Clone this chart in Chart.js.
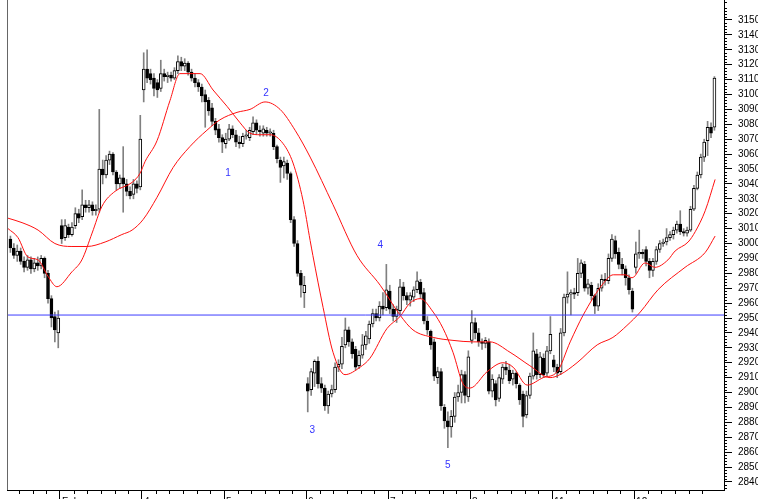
<!DOCTYPE html>
<html lang="en">
<head>
  <meta charset="UTF-8" />
  <title>Intraday candles | Feb</title>
  <style>
    html, body {
      margin: 0;
      padding: 0;
      background: #ffffff;
      width: 758px;
      height: 499px;
      overflow: hidden;
    }
    #wrap {
      position: absolute;
      left: 0;
      top: 0;
      width: 780px;
      height: 520px;
    }
  </style>
</head>
<body>
  <div id="wrap"><canvas id="chart" width="780" height="520"></canvas></div>

  <script src="https://cdn.jsdelivr.net/npm/chart.js"></script>
  <script>
    // x axis is in candle slots, Feb 1 opens at slot 0, one session = 24 slots
    const firstSlot = -15;
    const dayStarts = [0, 24, 48, 72, 96, 120, 144, 168];
    const dayLabels = ["February", "4", "5", "6", "7", "8", "11", "12"];
    const yTicks = [2840, 2850, 2860, 2870, 2880, 2890, 2900, 2910, 2920, 2930, 2940, 2950,
      2960, 2970, 2980, 2990, 3000, 3010, 3020, 3030, 3040, 3050, 3060, 3070, 3080, 3090,
      3100, 3110, 3120, 3130, 3140, 3150];

    // one line per session: Jan 31 (part), Feb 1, 4, 5, 6, 7, 8, 11, 12
    const opens = [
      3003, 2997, 2992, 2995, 2988, 2984, 2989, 2983, 2987, 2985, 2990, 2980, 2963, 2951, 2940,
      3012, 3004, 3011, 3006, 3012, 3020, 3018, 3026, 3024, 3026, 3022, 3023, 3050, 3046, 3056, 3060, 3048, 3040, 3044, 3040, 3035, 3033, 3040, 3038,
      3103, 3117, 3114, 3111, 3108, 3104, 3114, 3112, 3113, 3111, 3116, 3122, 3119, 3121, 3115, 3111, 3108, 3105, 3100, 3096, 3091, 3082, 3077, 3071,
      3067, 3070, 3077, 3073, 3068, 3067, 3072, 3071, 3075, 3081, 3076, 3074, 3076, 3074, 3074, 3065, 3056, 3052, 3054, 3047, 3016, 3000, 2980, 2967,
      2906, 2902, 2913, 2921, 2906, 2903, 2891, 2899, 2902, 2917, 2919, 2932, 2942, 2934, 2929, 2918, 2925, 2932, 2936, 2946, 2953, 2950, 2958, 2957,
      2968, 2956, 2951, 2955, 2971, 2965, 2962, 2964, 2969, 2974, 2967, 2948, 2941, 2934, 2910, 2914, 2890, 2881, 2877, 2884, 2897, 2900, 2912, 2897,
      2935, 2947, 2940, 2934, 2933, 2934, 2901, 2906, 2896, 2909, 2917, 2915, 2909, 2913, 2905, 2899, 2885, 2898, 2911, 2926, 2912, 2923, 2913, 2928,
      2922, 2917, 2914, 2940, 2964, 2966, 2967, 2967, 2980, 2986, 2970, 2972, 2965, 2958, 2970, 2976, 2975, 2990, 3002, 2994, 2986, 2983, 2977, 2968,
      2984, 2993, 2994, 2996, 2988, 2982, 2988, 2996, 3000, 3001, 3004, 3006, 3009, 3013, 3008, 3007, 3009, 3023, 3037, 3046, 3058, 3069, 3078, 3078
    ];
    const highs = [
      3005, 3000, 2999, 2997, 2991, 2992, 2991, 2990, 2991, 2992, 2991, 2982, 2965, 2954, 2955,
      3016, 3016, 3013, 3014, 3024, 3023, 3036, 3029, 3029, 3028, 3026, 3090, 3056, 3059, 3062, 3061, 3049, 3046, 3065, 3043, 3038, 3043, 3042, 3086,
      3128, 3130, 3117, 3114, 3110, 3123, 3117, 3115, 3115, 3118, 3126, 3125, 3124, 3122, 3117, 3114, 3110, 3107, 3103, 3098, 3094, 3084, 3080, 3073,
      3074, 3080, 3079, 3076, 3072, 3074, 3076, 3078, 3085, 3083, 3079, 3079, 3078, 3077, 3076, 3066, 3058, 3058, 3056, 3048, 3018, 3002, 2982, 2978,
      2910, 2916, 2922, 2924, 2910, 2905, 2901, 2905, 2920, 2922, 2937, 2950, 2944, 2936, 2931, 2928, 2939, 2941, 2948, 2956, 2956, 2961, 2967, 2986,
      2972, 2959, 2958, 2976, 2974, 2967, 2967, 2971, 2981, 2976, 2970, 2951, 2942, 2936, 2917, 2916, 2892, 2887, 2888, 2900, 2905, 2915, 2914, 2928,
      2955, 2950, 2943, 2936, 2937, 2936, 2912, 2908, 2912, 2919, 2921, 2919, 2915, 2914, 2906, 2901, 2901, 2913, 2940, 2929, 2927, 2926, 2931, 2951,
      2925, 2919, 2943, 2966, 2981, 2969, 2970, 2990, 2989, 2988, 2976, 2974, 2966, 2973, 2979, 2980, 2993, 3006, 3005, 2997, 2990, 2985, 2979, 2970,
      3001, 3009, 2996, 2998, 2990, 2990, 2998, 3002, 3003, 3010, 3008, 3011, 3015, 3022, 3010, 3011, 3025, 3039, 3048, 3060, 3070, 3082, 3081, 3112
    ];
    const lows = [
      2994, 2990, 2988, 2986, 2981, 2982, 2980, 2981, 2982, 2983, 2977, 2960, 2944, 2934, 2930,
      3000, 3002, 3004, 3005, 3010, 3014, 3016, 3021, 3021, 3019, 3019, 3021, 3040, 3044, 3053, 3046, 3036, 3037, 3021, 3032, 3030, 3030, 3034, 3036,
      3095, 3108, 3107, 3099, 3098, 3102, 3109, 3108, 3109, 3110, 3114, 3116, 3116, 3113, 3109, 3105, 3102, 3095, 3078, 3086, 3079, 3073, 3068, 3061,
      3064, 3069, 3071, 3065, 3064, 3065, 3070, 3069, 3073, 3073, 3072, 3072, 3072, 3072, 3063, 3054, 3041, 3044, 3043, 3014, 2998, 2978, 2964, 2957,
      2887, 2898, 2904, 2903, 2900, 2888, 2886, 2897, 2900, 2914, 2916, 2930, 2931, 2923, 2915, 2916, 2923, 2929, 2933, 2944, 2948, 2948, 2952, 2955,
      2953, 2948, 2947, 2952, 2962, 2959, 2958, 2961, 2967, 2963, 2946, 2939, 2929, 2908, 2906, 2888, 2876, 2863, 2870, 2880, 2894, 2893, 2893, 2894,
      2933, 2936, 2931, 2929, 2930, 2899, 2897, 2891, 2894, 2906, 2912, 2906, 2905, 2903, 2892, 2877, 2883, 2896, 2909, 2909, 2910, 2910, 2911, 2926,
      2914, 2910, 2912, 2938, 2960, 2952, 2963, 2965, 2977, 2968, 2966, 2962, 2953, 2955, 2968, 2972, 2973, 2988, 2990, 2983, 2979, 2972, 2966, 2954,
      2980, 2990, 2990, 2985, 2977, 2978, 2986, 2994, 2998, 2999, 3002, 3003, 3007, 3006, 3005, 3005, 3008, 3022, 3036, 3044, 3055, 3059, 3071, 3076
    ];
    const closes = [
      2997, 2992, 2995, 2988, 2984, 2989, 2983, 2987, 2985, 2990, 2980, 2963, 2950, 2942, 2950,
      3003, 3012, 3006, 3011, 3020, 3017, 3026, 3024, 3026, 3022, 3023, 3050, 3046, 3056, 3060, 3048, 3040, 3044, 3040, 3035, 3032, 3040, 3037, 3070,
      3117, 3111, 3110, 3104, 3103, 3114, 3112, 3113, 3111, 3116, 3122, 3119, 3121, 3115, 3111, 3108, 3105, 3099, 3095, 3089, 3082, 3076, 3071, 3068,
      3070, 3077, 3073, 3068, 3067, 3072, 3073, 3076, 3081, 3076, 3075, 3077, 3074, 3075, 3065, 3057, 3051, 3055, 3047, 3016, 3000, 2980, 2972, 2972,
      2901, 2914, 2921, 2906, 2903, 2891, 2899, 2902, 2917, 2919, 2931, 2942, 2934, 2926, 2917, 2925, 2932, 2938, 2946, 2953, 2950, 2958, 2956, 2969,
      2956, 2951, 2956, 2971, 2965, 2962, 2965, 2969, 2975, 2966, 2948, 2942, 2932, 2911, 2914, 2891, 2881, 2877, 2884, 2897, 2900, 2912, 2898, 2924,
      2947, 2940, 2934, 2933, 2935, 2901, 2909, 2895, 2910, 2917, 2915, 2908, 2913, 2906, 2895, 2884, 2898, 2911, 2928, 2912, 2924, 2912, 2928, 2939,
      2917, 2913, 2940, 2964, 2966, 2967, 2966, 2980, 2987, 2970, 2973, 2965, 2958, 2970, 2976, 2975, 2990, 3003, 2993, 2986, 2983, 2977, 2969, 2956,
      2993, 2994, 2993, 2988, 2982, 2988, 2996, 3000, 3001, 3004, 3006, 3009, 3013, 3008, 3007, 3009, 3023, 3037, 3046, 3058, 3068, 3078, 3074, 3111
    ];

    // the two red averages (slot, value)
    const fastMaSlots = [-15.2, -12.3, -9.4, -6.4, -3.5, -0.9, 3.5, 6.4, 9.4, 12.3, 16.1, 21.1, 23.4, 24.9,
      28.4, 32.2, 35.1, 38.0, 41.0, 44.8, 48.9, 52.7, 55.6, 58.5, 61.5, 65.3, 68.2, 71.1, 73.2, 74.0,
      77.0, 79.9, 83.4, 87.8, 90.7, 95.7, 99.5, 102.4, 105.4, 109.2, 112.1, 115.0, 117.9, 120.0, 125.0,
      129.6, 132.6, 136.7, 141.4, 145.5, 149.3, 153.1, 158.9, 161.9, 165.4, 167.4, 171.2, 174.1, 177.9,
      180.0, 183.8, 185.9, 188.8, 191.7];
    const fastMaValues = [3010, 3004, 2991, 2989, 2978, 2971, 2981, 2989, 3007, 3025, 3035, 3041, 3047, 3055,
      3069, 3096, 3114, 3114, 3114, 3103, 3092, 3081, 3074, 3073, 3073, 3067, 3054, 3029, 3002, 2992,
      2957, 2927, 2912, 2917, 2923, 2943, 2951, 2960, 2963, 2954, 2943, 2927, 2906, 2903, 2914,
      2920, 2917, 2905, 2910, 2914, 2934, 2952, 2973, 2979, 2979, 2977, 2987, 2984, 2989,
      2995, 3001, 3008, 3022, 3043];
    const slowMaSlots = [-15.2, -11.1, -6.4, -1.5, 3.5, 7.9, 13.2, 18.1, 21.1, 24.3, 28.4, 33.1, 38.0,
      43.0, 46.8, 51.8, 55.6, 60.0, 64.4, 68.8, 73.2, 79.9, 86.9, 93.7, 99.5, 103.3, 109.2, 115.0,
      120.9, 125.8, 131.7, 137.5, 143.4, 146.3, 151.3, 157.2, 161.8, 165.9, 169.8, 175.0, 182.9,
      188.8, 191.7];
    const slowMaValues = [3017, 3014, 3009, 3000, 2998, 2998, 3001, 3006, 3009, 3016, 3031, 3051, 3065,
      3076, 3083, 3088, 3090, 3095, 3090, 3076, 3058, 3026, 2992, 2972, 2952, 2942, 2937, 2935,
      2934, 2934, 2927, 2918, 2910, 2912, 2920, 2932, 2937, 2945, 2954, 2969, 2984,
      2994, 3005];

    const supportLevel = 2952;

    const waveLabels = ["1", "2", "3", "4", "5"];
    const waveSlots = [49.2, 60.3, 73.8, 93.7, 113.5];
    const waveValues = [3047, 3101, 2875, 2999, 2851];

    const xMin = -15.5, xMax = 194.3;
    const yMin = 2834.6, yMax = 3163.4;
    const FONT = "'Liberation Sans', Arial, sans-serif";

    const slotOf = i => firstSlot + i + 0.5;
    const wicks = highs.map((h, i) => ({ x: slotOf(i), y: [lows[i], h] }));
    const bodies = opens.map((o, i) => ({ x: slotOf(i), y: [o, closes[i]] }));
    const bodyFill = opens.map((o, i) => closes[i] >= o ? '#ffffff' : '#000000');
    const fastMa = fastMaSlots.map((s, i) => ({ x: s, y: fastMaValues[i] }));
    const slowMa = slowMaSlots.map((s, i) => ({ x: s, y: slowMaValues[i] }));

    // minor tick marks, left frame line and the wave count numbers
    const chartFrame = {
      id: 'chartFrame',
      afterDraw(chart) {
        const { ctx, chartArea: a, scales: { x, y } } = chart;
        ctx.save();
        ctx.strokeStyle = '#000';
        ctx.lineWidth = 1;
        ctx.beginPath();
        for (let v = 2836; v <= 3162; v += 2) {
          if (v % 10 === 0) continue;
          const py = Math.round(y.getPixelForValue(v)) + 0.5;
          ctx.moveTo(a.right, py);
          ctx.lineTo(a.right + 3, py);
        }
        for (let s = -12; s <= 192; s += 4) {
          if (s % 24 === 0) continue;
          const px = Math.round(x.getPixelForValue(s)) + 0.5;
          ctx.moveTo(px, a.bottom);
          ctx.lineTo(px, a.bottom + 4);
        }
        ctx.stroke();

        ctx.strokeStyle = '#666';
        ctx.beginPath();
        ctx.moveTo(a.left + 0.5, a.top);
        ctx.lineTo(a.left + 0.5, a.bottom);
        ctx.stroke();

        ctx.fillStyle = '#3333ff';
        ctx.font = '10px ' + FONT;
        ctx.textAlign = 'center';
        ctx.textBaseline = 'middle';
        waveLabels.forEach((t, i) => {
          ctx.fillText(t, x.getPixelForValue(waveSlots[i]), y.getPixelForValue(waveValues[i]));
        });
        ctx.restore();
      }
    };

    new Chart(document.getElementById('chart'), {
      type: 'bar',
      data: {
        datasets: [
          {
            data: wicks,
            backgroundColor: '#808080',
            barThickness: 1,
            grouped: false,
            order: 4
          },
          {
            data: bodies,
            backgroundColor: bodyFill,
            borderColor: '#000000',
            borderWidth: 1,
            borderSkipped: false,
            barThickness: 3,
            minBarLength: 1,
            grouped: false,
            order: 3
          },
          {
            type: 'line',
            data: fastMa,
            borderColor: '#ff1010',
            borderWidth: 1,
            pointRadius: 0,
            cubicInterpolationMode: 'monotone',
            order: 2
          },
          {
            type: 'line',
            data: slowMa,
            borderColor: '#ff1010',
            borderWidth: 1,
            pointRadius: 0,
            cubicInterpolationMode: 'monotone',
            order: 2
          },
          {
            type: 'line',
            data: [{ x: xMin, y: supportLevel }, { x: xMax, y: supportLevel }],
            borderColor: '#3c3cff',
            borderWidth: 1,
            pointRadius: 0,
            order: 1
          }
        ]
      },
      options: {
        responsive: false,
        animation: false,
        layout: { padding: { left: 7, top: 0, right: 0, bottom: 0 } },
        plugins: {
          legend: { display: false },
          tooltip: { enabled: false }
        },
        scales: {
          x: {
            type: 'linear',
            min: xMin,
            max: xMax,
            offset: false,
            afterBuildTicks: scale => { scale.ticks = dayStarts.map(v => ({ value: v })); },
            afterFit: scale => {
              scale.height = 30;
              scale.paddingLeft = 0;
              scale.paddingRight = 0;
            },
            ticks: {
              callback: (v, i) => dayLabels[i],
              align: 'start',
              labelOffset: 2,
              maxRotation: 0,
              autoSkip: false,
              padding: -3,
              color: '#000',
              font: { family: FONT, size: 10 }
            },
            grid: { drawOnChartArea: false, offset: false, tickLength: 9, color: '#000' },
            border: { display: true, color: '#000' }
          },
          y: {
            type: 'linear',
            position: 'right',
            min: yMin,
            max: yMax,
            afterBuildTicks: scale => { scale.ticks = yTicks.map(v => ({ value: v })); },
            afterFit: scale => {
              scale.width = 56;
              scale.paddingTop = 0;
              scale.paddingBottom = 0;
            },
            ticks: {
              callback: v => String(v),
              padding: 6,
              color: '#000',
              font: { family: FONT, size: 10 }
            },
            grid: { drawOnChartArea: false, tickLength: 8, color: '#000' },
            border: { display: true, color: '#000' }
          }
        }
      },
      plugins: [chartFrame]
    });
  </script>
</body>
</html>
